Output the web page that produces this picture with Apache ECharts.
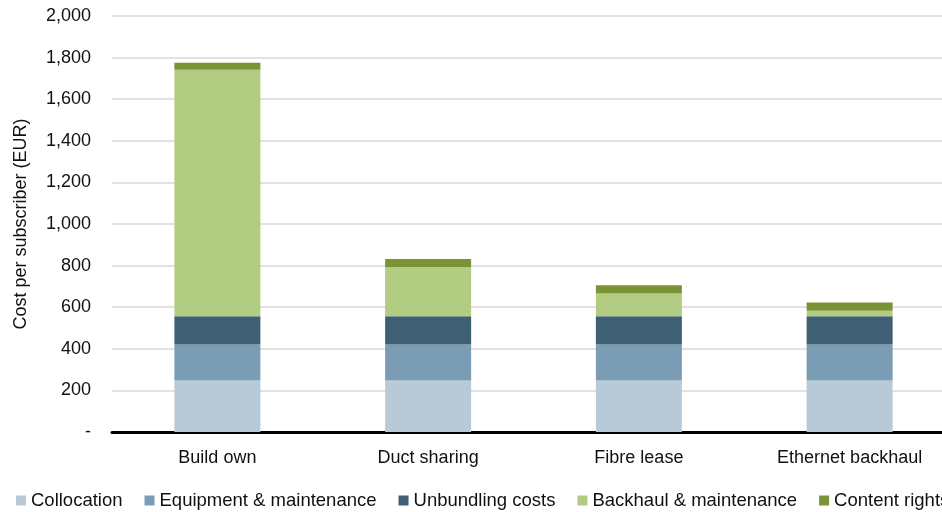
<!DOCTYPE html>
<html>
<head>
<meta charset="utf-8">
<script src="https://cdn.jsdelivr.net/npm/echarts@6/dist/echarts.min.js"></script>
<style>
  html, body { margin: 0; padding: 0; background: #ffffff; overflow: hidden; }
  /* the drawing runs a little past the right edge of the window */
  #chart { width: 955px; height: 512px; }
</style>
</head>
<body>
<div id="chart"></div>
<script>
// Cost build-up per subscriber for each backhaul option (EUR)
const categories = ['Build own', 'Duct sharing', 'Fibre lease', 'Ethernet backhaul'];
const collocation = [248, 248, 248, 248];
const equipment = [173, 173, 173, 173];
const unbundling = [135, 135, 135, 135];
const backhaul = [1185, 236, 110, 27];
const contentRights = [34, 40, 40, 40];
const yTicks = { min: 0, max: 2000, interval: 200 };

const seriesDefs = [
  { name: 'Collocation', data: collocation, color: '#b8cad8' },
  { name: 'Equipment & maintenance', data: equipment, color: '#7a9db5' },
  { name: 'Unbundling costs', data: unbundling, color: '#3f5f74' },
  { name: 'Backhaul & maintenance', data: backhaul, color: '#b2cd82' },
  { name: 'Content rights', data: contentRights, color: '#7a9435' }
];

const font = 'Liberation Sans, Arial, Helvetica, sans-serif';
const chart = echarts.init(document.getElementById('chart'), null, { renderer: 'canvas' });

chart.setOption({
  animation: false,
  backgroundColor: '#ffffff',
  textStyle: { fontFamily: font },
  grid: { left: 112, right: 0, top: 16, height: 416, containLabel: false },
  legend: {
    left: 16,
    top: 491,
    width: 1400,
    padding: 0,
    itemWidth: 10,
    itemHeight: 10,
    itemGap: 22,
    icon: 'rect',
    textStyle: { fontSize: 18.5, color: '#111111', fontFamily: font },
    data: seriesDefs.map(s => s.name)
  },
  xAxis: {
    type: 'category',
    data: categories,
    axisLine: { lineStyle: { color: '#000000', width: 3 } },
    axisTick: { show: false },
    axisLabel: { fontSize: 18, color: '#111111', margin: 17, fontFamily: font }
  },
  yAxis: {
    type: 'value',
    min: yTicks.min,
    max: yTicks.max,
    interval: yTicks.interval,
    name: 'Cost per subscriber (EUR)',
    nameLocation: 'middle',
    nameRotate: 90,
    nameGap: 82,
    nameTextStyle: { fontSize: 18, color: '#111111', fontFamily: font },
    axisLine: { show: false },
    axisTick: { show: false },
    splitLine: { lineStyle: { color: '#d9d9d9', width: 1.5 } },
    axisLabel: {
      fontSize: 18,
      color: '#111111',
      margin: 21,
      fontFamily: font,
      formatter: v => v === 0 ? '-' : v.toLocaleString('en-US')
    }
  },
  series: seriesDefs.map(s => ({
    name: s.name,
    type: 'bar',
    stack: 'cost',
    barWidth: 86,
    data: s.data,
    itemStyle: { color: s.color }
  }))
});
</script>
</body>
</html>
